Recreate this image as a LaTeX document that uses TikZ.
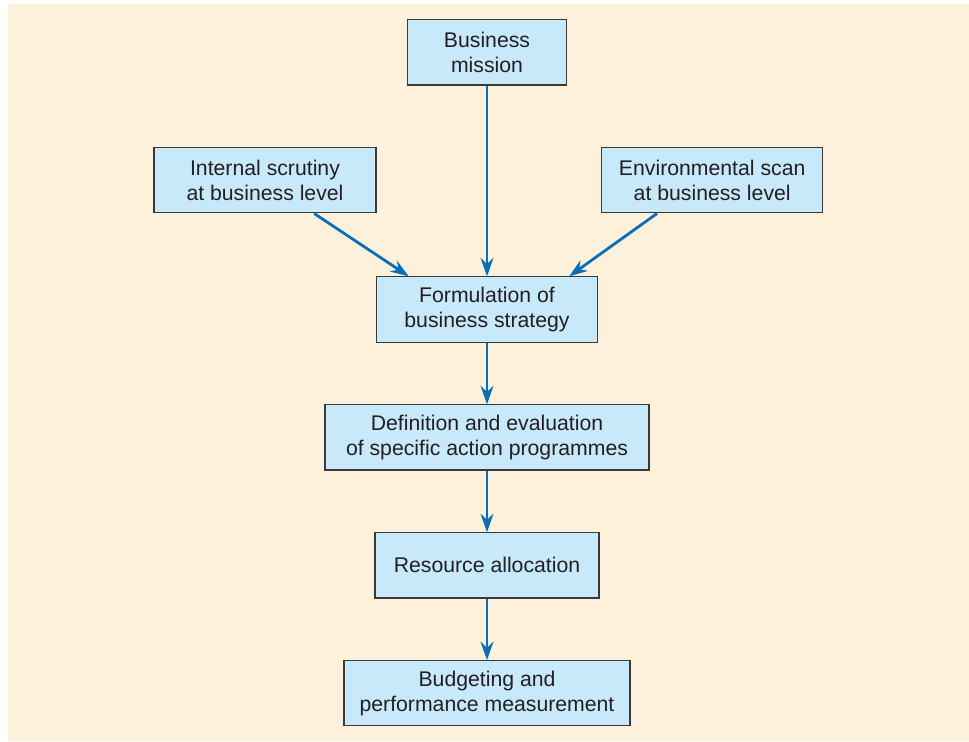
\documentclass[tikz,border=0pt]{standalone}
\usepackage{fontspec}
\setmainfont{Liberation Sans}
\usepackage{xcolor}
\usepackage{tikz}
\usetikzlibrary{positioning}
\usetikzlibrary{arrows.meta}

\definecolor{bgcream}{HTML}{FEF1DC}
\definecolor{boxblue}{HTML}{C8E9F9}
\definecolor{arrowblue}{HTML}{0A6FB8}
\definecolor{textgray}{HTML}{231F20}
\definecolor{bordergray}{HTML}{3A3A3A}

\begin{document}
\begin{tikzpicture}[
				node distance=1.54cm,
				box/.style={rectangle, draw=bordergray, line width=0.8pt, fill=boxblue, text=textgray, minimum height=1.63cm, align=center, font=\fontsize{15.1}{17.4}\selectfont},
				arrow/.style={-{Stealth[length=0.46cm, width=0.32cm, inset=0.15cm]}, line width=2pt, arrowblue}
			]

			% Background
			\useasboundingbox (0,0) rectangle (24.225,-18.525);
			\fill[bgcream] (0.2,-0.1) rectangle (24.225,-18.525);

			% Main workflow
			\node[box, minimum width=3.98cm] (mission) at (12.175,-1.31) {Business\\mission};
			\node[box, minimum width=5.55cm, below=of mission, xshift=-5.55cm] (internal) {Internal scrutiny\\at business level};
			\node[box, minimum width=5.53cm, below=of mission, xshift=5.63cm] (envscan) {Environmental scan\\at business level};
			\node[box, minimum width=5.52cm, below=4.77cm of mission] (formulation) {Formulation of\\business strategy};
			\node[box, minimum width=8.1cm, below=of formulation] (definition) {Definition and evaluation\\of specific action programmes};
			\node[box, minimum width=5.6cm, below=of definition] (resource) {Resource allocation};
			\node[box, minimum width=7.15cm, below=of resource] (budgeting) {Budgeting and\\performance measurement};

			\draw[arrow] (mission) -- (formulation);
			\draw[arrow] (internal.-34) -- (formulation.157);
			\draw[arrow] (envscan.-149) -- (formulation.22);
			\draw[arrow] (formulation) -- (definition);
			\draw[arrow] (definition) -- (resource);
			\draw[arrow] (resource) -- (budgeting);

		\end{tikzpicture}
\end{document}
